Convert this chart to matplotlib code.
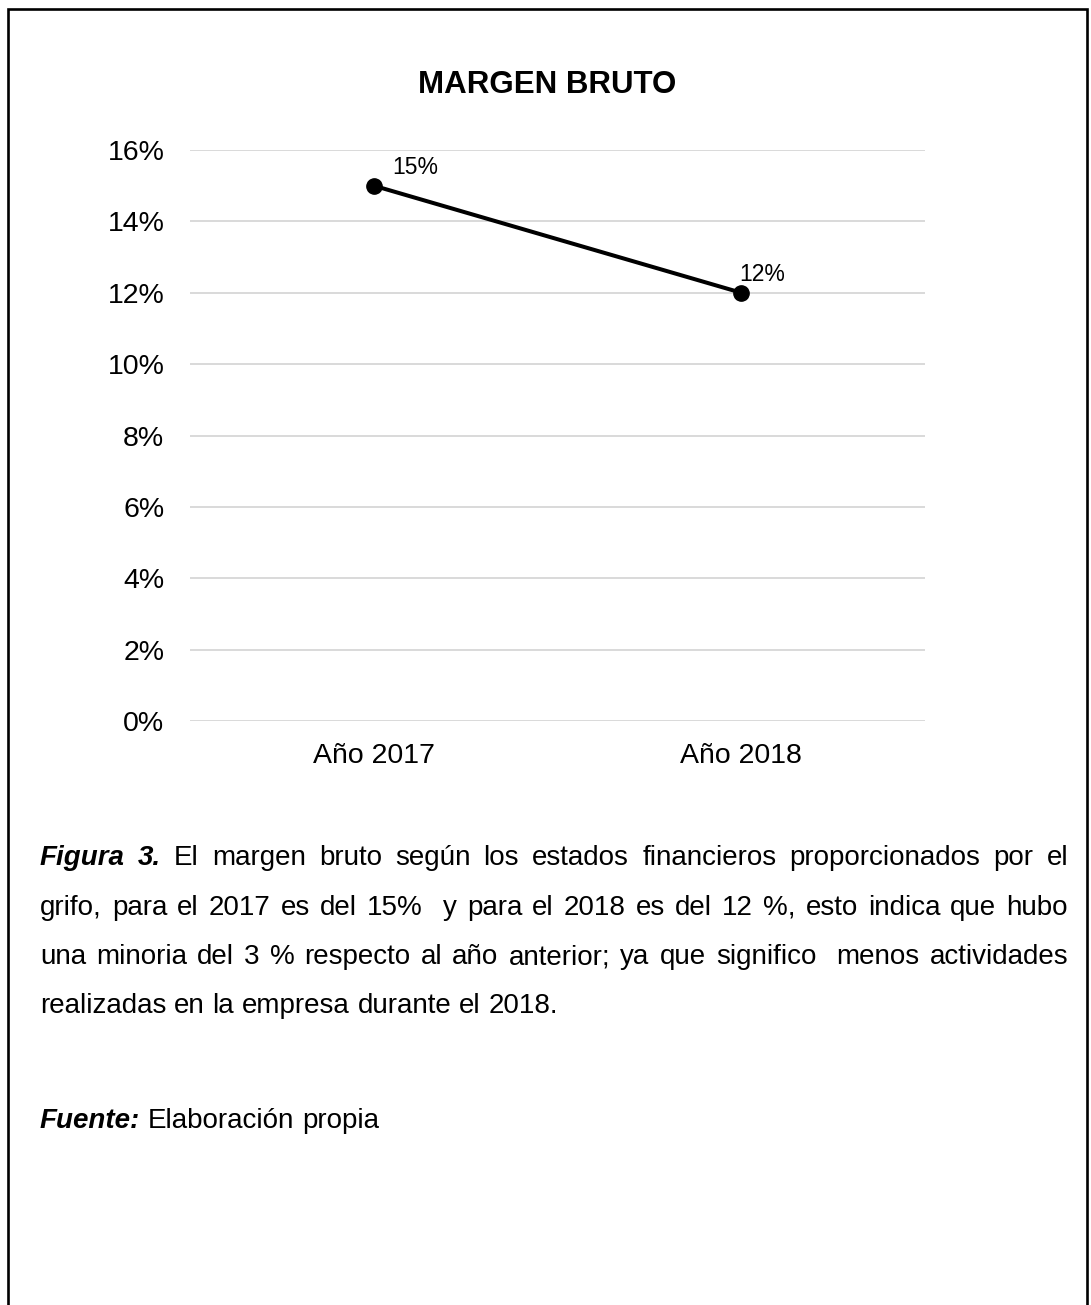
import matplotlib
matplotlib.use("Agg")
import matplotlib.pyplot as plt
from matplotlib.lines import Line2D
from matplotlib.ticker import FuncFormatter, MultipleLocator

# ---- data ----
categories = ["Año 2017", "Año 2018"]
margen_bruto = [0.15, 0.12]
value_labels = ["15%", "12%"]
title_text = "MARGEN BRUTO"

# label placement offsets (points) - styling only
label_dx = [13.5, -1.5]
label_dy = [13, 13]

W, H = 1091, 1305
DPI = 100
FONT = ["Liberation Sans", "DejaVu Sans"]
plt.rcParams["font.family"] = FONT

fig = plt.figure(figsize=(W / DPI, H / DPI), dpi=DPI)
fig.patch.set_facecolor("white")

def fx(px):
    return px / W

def fy(py):
    return 1 - py / H

# axes area: x 190..925, y 150..721 (pixels)
ax = fig.add_axes([fx(190), fy(721), (925 - 190) / W, (721 - 150) / H])
x = list(range(len(categories)))
ax.plot(x, margen_bruto, color="black", lw=2.9, marker="o", ms=11,
        solid_capstyle="round", clip_on=False, zorder=3)
for xi, yi, lab, dx, dy in zip(x, margen_bruto, value_labels, label_dx, label_dy):
    ax.annotate(lab, (xi, yi), xytext=(dx, dy), textcoords="offset points",
                ha="left", va="center", fontsize=16.5, color="black")

ax.set_xlim(-0.5, len(categories) - 0.5)
ax.set_ylim(0, 0.16)
ax.yaxis.set_major_locator(MultipleLocator(0.02))
ax.yaxis.set_major_formatter(FuncFormatter(lambda v, p: f"{v*100:.0f}%"))
ax.set_xticks(x)
ax.set_xticklabels(categories)
ax.grid(axis="y", color="#D9D9D9", lw=1.4)
ax.set_axisbelow(True)
for s in ax.spines.values():
    s.set_visible(False)
ax.tick_params(axis="both", length=0, labelsize=20.5, colors="black")
ax.tick_params(axis="y", pad=18.5)
ax.tick_params(axis="x", pad=16)

# title
fig.text(fx(547), fy(93), title_text, ha="center", va="baseline",
         fontsize=22.5, fontweight="bold", color="black")

# border (open at the bottom)
bx0, by0, bx1 = 7.5, 9, 1086.5
border = Line2D([fx(bx0), fx(bx0), fx(bx1), fx(bx1)],
                [0, fy(by0), fy(by0), 0], transform=fig.transFigure,
                color="black", lw=1.9, solid_joinstyle="miter")
fig.add_artist(border)

# caption text, justified
FS = 20
BI = ("bold", "italic")
NR = ("normal", "normal")

def tokens(s, style=NR):
    out = []
    parts = s.split(" ")
    gaps = 0
    for p in parts:
        if p == "":
            gaps += 1
            continue
        out.append([p, style, gaps])
        gaps = 1
    return out

lines = [
    (tokens("Figura 3.", BI) + [["El", NR, 1]] +
     tokens("margen bruto según los estados financieros proporcionados por el"), True, 865),
    (tokens("grifo, para el 2017 es del 15%  y para el 2018 es del 12 %, esto indica que hubo"), True, 915),
    (tokens("una minoria del 3 % respecto al año anterior; ya que significo  menos actividades"), True, 964),
    (tokens("realizadas en la empresa durante el 2018."), False, 1013),
    (tokens("Fuente:", BI) + [["Elaboración", NR, 1], ["propia", NR, 1]], False, 1128),
]
lines[0][0][3][2] = 1

X0, X1 = 40, 1068
fig.canvas.draw()
renderer = fig.canvas.get_renderer()

def measure(s, style):
    t = fig.text(0, 0, s, fontsize=FS, fontweight=style[0], fontstyle=style[1])
    w = t.get_window_extent(renderer).width
    t.remove()
    return w

space_w = measure("a a", NR) - measure("aa", NR)

for toks, justify, ybase in lines:
    widths = [measure(w, st) for w, st, g in toks]
    total_gaps = sum(g for i, (w, st, g) in enumerate(toks) if i > 0)
    if justify and total_gaps > 0:
        gap = (X1 - X0 - sum(widths)) / total_gaps
    else:
        gap = space_w
    xpos = X0
    for i, ((w, st, g), wd) in enumerate(zip(toks, widths)):
        if i > 0:
            xpos += g * gap
        fig.text(fx(xpos), fy(ybase), w, fontsize=FS, fontweight=st[0],
                 fontstyle=st[1], ha="left", va="baseline", color="black")
        xpos += wd

fig.savefig("out.png", dpi=DPI, facecolor="white")
